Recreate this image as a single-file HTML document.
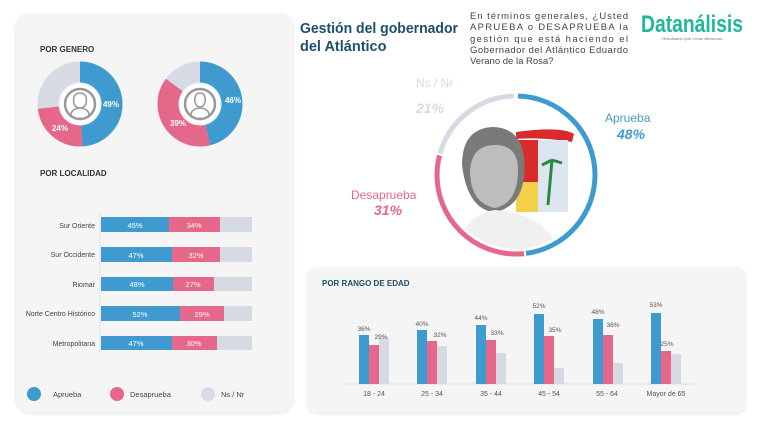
<!DOCTYPE html>
<html><head><meta charset="utf-8"><style>
body{margin:0;background:#fff;width:760px;height:428px;overflow:hidden;font-family:"Liberation Sans",sans-serif}
</style></head><body>
<svg width="760" height="428" viewBox="0 0 760 428" xmlns="http://www.w3.org/2000/svg" font-family="Liberation Sans, sans-serif">
<defs><filter id="sh" x="-10%" y="-10%" width="120%" height="120%"><feDropShadow dx="0" dy="1" stdDeviation="2" flood-color="#000" flood-opacity="0.12"/></filter>
<clipPath id="pc"><circle cx="516" cy="175" r="74"/></clipPath></defs>
<rect x="16" y="14" width="277" height="398" rx="14" fill="#f5f5f6" filter="url(#sh)"/>
<rect x="308" y="268" width="437" height="144" rx="8" fill="#f5f5f6" filter="url(#sh)"/>
<text x="40" y="52" font-size="8" font-weight="bold" fill="#333">POR GENERO</text>
<text x="40" y="176" font-size="8" font-weight="bold" fill="#333">POR LOCALIDAD</text>
<!-- female donut -->
<g transform="translate(80,104) rotate(-90)">
<circle r="32" fill="none" stroke="#d6dbe3" stroke-width="21"/>
<circle r="32" fill="none" stroke="#3f9bcf" stroke-width="21" stroke-dasharray="98.5 300"/>
<circle r="32" fill="none" stroke="#e5678a" stroke-width="21" stroke-dasharray="0 98.5 48.3 300"/>
</g>
<circle cx="80" cy="104" r="20" fill="#fff"/><circle cx="80" cy="104" r="15" fill="none" stroke="#999" stroke-width="2.5"/>
<path d="M71 115 q0-6 9-7 q9 1 9 7 M74 104 q-2-11 6-11 q8 0 6 11 q-2 4-6 4 q-4 0-6-4z" fill="none" stroke="#999" stroke-width="1.6"/>
<text x="111" y="107" font-size="8" font-weight="bold" fill="#fff" text-anchor="middle">49%</text>
<text x="60" y="131" font-size="8" font-weight="bold" fill="#fff" text-anchor="middle">24%</text>
<!-- male donut -->
<g transform="translate(200,104) rotate(-90)">
<circle r="32" fill="none" stroke="#d6dbe3" stroke-width="21"/>
<circle r="32" fill="none" stroke="#3f9bcf" stroke-width="21" stroke-dasharray="92.5 300"/>
<circle r="32" fill="none" stroke="#e5678a" stroke-width="21" stroke-dasharray="0 92.5 78.4 300"/>
</g>
<circle cx="200" cy="104" r="20" fill="#fff"/><circle cx="200" cy="104" r="15" fill="none" stroke="#999" stroke-width="2.5"/>
<path d="M191 115 q0-6 9-7 q9 1 9 7 M195 102 q-1-9 5-9 q6 0 5 9 q-1 5-5 5 q-4 0-5-5z" fill="none" stroke="#999" stroke-width="1.6"/>
<text x="233" y="103" font-size="8" font-weight="bold" fill="#fff" text-anchor="middle">46%</text>
<text x="178" y="126" font-size="8" font-weight="bold" fill="#fff" text-anchor="middle">39%</text>
<!-- locality -->
<line x1="100" y1="212" x2="100" y2="354" stroke="#e2e2e2" stroke-width="1"/>
<g font-size="7" fill="#444" text-anchor="end">
<text x="95" y="228">Sur Oriente</text><text x="95" y="257">Sur Occidente</text><text x="95" y="287">Riomar</text><text x="95" y="316">Norte Centro Histórico</text><text x="95" y="346">Metropolitana</text></g>
<g font-size="7.5" fill="#fff" text-anchor="middle">
<rect x="101" y="217" width="151" height="15" fill="#d6dbe3"/><rect x="101" y="217" width="68" height="15" fill="#3f9bcf"/><rect x="169" y="217" width="51" height="15" fill="#e5678a"/><text x="135" y="228">45%</text><text x="194" y="228">34%</text>
<rect x="101" y="247" width="151" height="15" fill="#d6dbe3"/><rect x="101" y="247" width="71" height="15" fill="#3f9bcf"/><rect x="172" y="247" width="48" height="15" fill="#e5678a"/><text x="136" y="258">47%</text><text x="196" y="258">32%</text>
<rect x="101" y="277" width="151" height="14" fill="#d6dbe3"/><rect x="101" y="277" width="72" height="14" fill="#3f9bcf"/><rect x="173" y="277" width="41" height="14" fill="#e5678a"/><text x="137" y="287">48%</text><text x="193" y="287">27%</text>
<rect x="101" y="306" width="151" height="15" fill="#d6dbe3"/><rect x="101" y="306" width="79" height="15" fill="#3f9bcf"/><rect x="180" y="306" width="44" height="15" fill="#e5678a"/><text x="140" y="317">52%</text><text x="202" y="317">29%</text>
<rect x="101" y="336" width="151" height="14" fill="#d6dbe3"/><rect x="101" y="336" width="71" height="14" fill="#3f9bcf"/><rect x="172" y="336" width="45" height="14" fill="#e5678a"/><text x="136" y="346">47%</text><text x="194" y="346">30%</text>
</g>
<circle cx="34" cy="394" r="7" fill="#3f9bcf"/><text x="53" y="397" font-size="7.5" fill="#444">Aprueba</text>
<circle cx="117" cy="394" r="7" fill="#e5678a"/><text x="130" y="397" font-size="7.5" fill="#444">Desaprueba</text>
<circle cx="208" cy="394" r="7" fill="#d6dbe3"/><text x="221" y="397" font-size="7.5" fill="#444">Ns / Nr</text>
<!-- header -->
<text x="300" y="33" font-size="14.5" font-weight="bold" fill="#1d4e6b" textLength="158" lengthAdjust="spacingAndGlyphs">Gestión del gobernador</text>
<text x="300" y="51" font-size="14.5" font-weight="bold" fill="#1d4e6b">del Atlántico</text>
<g font-size="9.5" fill="#444"><text x="470" y="19" textLength="158" lengthAdjust="spacing">En términos generales, ¿Usted</text>
<text x="470" y="30" textLength="158" lengthAdjust="spacing">APRUEBA o DESAPRUEBA la</text>
<text x="470" y="42" textLength="158" lengthAdjust="spacing">gestión que está haciendo el</text>
<text x="470" y="53" textLength="158" lengthAdjust="spacing">Gobernador del Atlántico Eduardo</text>
<text x="470" y="64">Verano de la Rosa?</text></g>
<text x="641" y="32" font-size="24" font-weight="bold" fill="#1fb89a" textLength="102" lengthAdjust="spacingAndGlyphs">Datanálisis</text>
<text x="692" y="40" font-size="4" fill="#777" text-anchor="middle">- Resultados Que Crean diferencia -</text>
<!-- main donut -->
<g transform="translate(516,175) rotate(-90)">
<circle r="79" fill="none" stroke="#3f9bcf" stroke-width="5" stroke-dasharray="0 2 236 500"/>
<circle r="79" fill="none" stroke="#e5678a" stroke-width="5" stroke-dasharray="0 240 152 500"/>
<circle r="79" fill="none" stroke="#d6dbe3" stroke-width="5" stroke-dasharray="0 394 100 500"/>
</g>
<!-- photo approximation -->
<g clip-path="url(#pc)">
<path d="M516 132 q45 -6 58 2 l-2 8 q-30-5-56-3z" fill="#d92b2b"/>
<rect x="516" y="140" width="22" height="42" fill="#d92b2b"/>
<rect x="538" y="140" width="30" height="72" fill="#dbe6f0"/>
<rect x="516" y="182" width="22" height="30" fill="#f3d04a"/>
<path d="M548 205 l4-45 M552 160 l-10 5 M552 160 l10 3" stroke="#2a8a3a" stroke-width="3" fill="none"/>
<path d="M462 165 q0-36 30-38 q28 0 32 30 q3 30-10 45 q-10 10-22 10 q-25-5-30-47z" fill="#7a7a7a"/>
<path d="M470 170 q2-25 25-25 q23 0 23 25 q0 33-23 38 q-25-5-25-38z" fill="#bdbdbd"/>
<path d="M455 260 q5-45 40-50 q40 2 60 30 l0 30z" fill="#f0f0f0"/>
</g>
<text x="416" y="87" font-size="12" fill="#d6dbe3">Ns / Nr</text>
<text x="416" y="113" font-size="14" font-weight="bold" font-style="italic" fill="#d6dbe3">21%</text>
<text x="605" y="122" font-size="12" fill="#3f9bcf">Aprueba</text>
<text x="617" y="139" font-size="14" font-weight="bold" font-style="italic" fill="#3f9bcf">48%</text>
<text x="351" y="199" font-size="12" fill="#e5678a">Desaprueba</text>
<text x="374" y="215" font-size="14" font-weight="bold" font-style="italic" fill="#e5678a">31%</text>
<!-- age chart -->
<text x="322" y="286" font-size="8" font-weight="bold" fill="#1d4e6b">POR RANGO DE EDAD</text>
<line x1="346" y1="384" x2="696" y2="384" stroke="#ddd"/>
<g font-size="6.5" fill="#555" text-anchor="middle">
<rect x="359" y="335" width="10" height="49" fill="#3f9bcf"/><rect x="369" y="345" width="10" height="39" fill="#e5678a"/><rect x="379" y="338" width="10" height="46" fill="#d6dbe3"/>
<text x="364" y="331">36%</text><text x="381" y="339">29%</text><text x="374" y="396" font-size="7">18 - 24</text>
<rect x="417" y="330" width="10" height="54" fill="#3f9bcf"/><rect x="427" y="341" width="10" height="43" fill="#e5678a"/><rect x="437" y="346" width="10" height="38" fill="#d6dbe3"/>
<text x="422" y="326">40%</text><text x="440" y="337">32%</text><text x="432" y="396" font-size="7">25 - 34</text>
<rect x="476" y="325" width="10" height="59" fill="#3f9bcf"/><rect x="486" y="340" width="10" height="44" fill="#e5678a"/><rect x="496" y="353" width="10" height="31" fill="#d6dbe3"/>
<text x="481" y="320">44%</text><text x="497" y="335">33%</text><text x="491" y="396" font-size="7">35 - 44</text>
<rect x="534" y="314" width="10" height="70" fill="#3f9bcf"/><rect x="544" y="336" width="10" height="48" fill="#e5678a"/><rect x="554" y="368" width="10" height="16" fill="#d6dbe3"/>
<text x="539" y="308">52%</text><text x="555" y="332">35%</text><text x="549" y="396" font-size="7">45 - 54</text>
<rect x="593" y="319" width="10" height="65" fill="#3f9bcf"/><rect x="603" y="335" width="10" height="49" fill="#e5678a"/><rect x="613" y="363" width="10" height="21" fill="#d6dbe3"/>
<text x="598" y="314">48%</text><text x="613" y="327">36%</text><text x="607" y="396" font-size="7">55 - 64</text>
<rect x="651" y="313" width="10" height="71" fill="#3f9bcf"/><rect x="661" y="351" width="10" height="33" fill="#e5678a"/><rect x="671" y="354" width="10" height="30" fill="#d6dbe3"/>
<text x="656" y="307">53%</text><text x="667" y="346">25%</text><text x="666" y="396" font-size="7">Mayor de 65</text>
</g>
</svg>
</body></html>
